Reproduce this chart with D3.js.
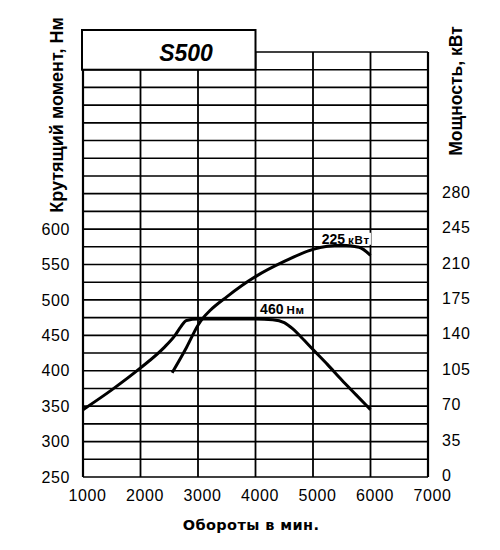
<!DOCTYPE html>
<html>
<head>
<meta charset="utf-8">
<script src="https://cdn.jsdelivr.net/npm/d3@7"></script>
<style>
html,body{margin:0;padding:0;background:#fff;}
svg{display:block;}
text{font-family:"Liberation Sans",Arial,Helvetica,sans-serif;fill:#000;}
</style>
</head>
<body>
<svg id="chart" width="500" height="550"></svg>
<script>
// ---- data ----
const title = "S500";
const rpmTicks = [1000, 2000, 3000, 4000, 5000, 6000, 7000];
const torqueTicks = [250, 300, 350, 400, 450, 500, 550, 600];
const powerTicks = [0, 35, 70, 105, 140, 175, 210, 245, 280];
const torqueRpm = [1000, 1500, 2000, 2400, 2600, 2700, 2800, 3000, 3500, 4000, 4300, 4500, 4650, 4800, 5000, 5250, 5500, 5750, 6000];
const torqueNm  = [345, 373, 404, 432, 450, 462, 471, 473, 473, 473, 472, 468, 459, 447, 430, 409, 387, 366, 345];
const powerRpm = [2550, 2800, 3000, 3100, 3200, 3500, 4000, 4500, 5000, 5500, 5800, 6000];
const powerKw  = [103, 128, 150, 158, 164, 178, 198, 213, 225, 229, 227, 219];
const torqueLabel = ["460", "Нм"];
const powerLabel = ["225", "кВт"];
const xTitle = "Обороты в мин.";
const yLeftTitle = "Крутящий момент, Нм";
const yRightTitle = "Мощность, кВт";

// ---- scales ----
const svg = d3.select("#chart");
const x = d3.scaleLinear().domain([1000, 7000]).range([83, 428]);
const yT = d3.scaleLinear().domain([250, 850]).range([477, 52]);
const yP = d3.scaleLinear().domain([0, 420]).range([477, 52]);
const gridNm = d3.range(250, 851, 25);

const g = svg.append("g");

// horizontal grid
g.selectAll("line.h").data(gridNm).join("line")
  .attr("x1", x(1000)).attr("x2", x(7000))
  .attr("y1", d => yT(d)).attr("y2", d => yT(d))
  .attr("stroke", "#000").attr("stroke-width", 1.6);

// vertical grid
g.selectAll("line.v").data(rpmTicks).join("line")
  .attr("x1", d => x(d)).attr("x2", d => x(d))
  .attr("y1", yT(850)).attr("y2", yT(250))
  .attr("stroke", "#000").attr("stroke-width", d => (d === 1000 || d === 7000) ? 2.2 : 1.8);

// title box
g.append("rect")
  .attr("x", x(1000) - 1).attr("y", 30)
  .attr("width", x(4000) - x(1000) + 1).attr("height", yT(825) - 30)
  .attr("fill", "#fff").attr("stroke", "#000").attr("stroke-width", 2);
g.append("text").attr("x", 186).attr("y", 61)
  .attr("text-anchor", "middle")
  .style("font-size", "23px").style("font-weight", "bold").style("font-style", "italic")
  .text(title);

// curve labels (under the curves)
const labelLayer = g.append("g");
function label(xp, yp, parts) {
  const t = labelLayer.append("text").attr("x", xp).attr("y", yp)
    .style("font-weight", "bold");
  t.append("tspan").style("font-size", "14px").text(parts[0]);
  t.append("tspan").attr("dx", 3).style("font-size", "11.5px").style("letter-spacing", "0.8px").text(parts[1]);
  const bb = t.node().getBBox();
  labelLayer.insert("rect", () => t.node())
    .attr("x", bb.x - 1).attr("y", bb.y + 2)
    .attr("width", bb.width + 2).attr("height", bb.height - 4)
    .attr("fill", "#fff");
}
label(x(4080), yT(475) - 4, torqueLabel);
label(x(5150), yT(575) - 3, powerLabel);

// curves
const line = d3.line().curve(d3.curveMonotoneX);
g.append("path")
  .attr("d", line(torqueRpm.map((r, i) => [x(r), yT(torqueNm[i])])))
  .attr("fill", "none").attr("stroke", "#000").attr("stroke-width", 3);
g.append("path")
  .attr("d", line(powerRpm.map((r, i) => [x(r), yP(powerKw[i])])))
  .attr("fill", "none").attr("stroke", "#000").attr("stroke-width", 3);

// axes
const left = svg.append("g").attr("transform", `translate(${x(1000)},0)`)
  .call(d3.axisLeft(yT).tickValues(torqueTicks).tickSize(0).tickPadding(13));
const bottom = svg.append("g").attr("transform", `translate(4,${yT(250)})`)
  .call(d3.axisBottom(x).tickValues(rpmTicks).tickSize(0).tickPadding(13).tickFormat(d3.format("d")));
const right = svg.append("g").attr("transform", `translate(${x(7000)},0)`)
  .call(d3.axisRight(yP).tickValues(powerTicks).tickSize(0).tickPadding(14));
[left, bottom, right].forEach(a => {
  a.select(".domain").remove();
  a.selectAll("text").style("font-size", "16px").style("letter-spacing", "0.6px").attr("fill", "#000")
    .style("font-family", '"Liberation Sans",Arial,sans-serif');
});
right.selectAll("text").attr("dy", "0.22em");

// axis titles
svg.append("text").attr("x", 251).attr("y", 530)
  .attr("text-anchor", "middle")
  .style("font-family", '"DejaVu Sans",sans-serif')
  .style("font-size", "14.5px").style("font-weight", "bold").style("letter-spacing", "0.4px")
  .text(xTitle);
svg.append("text").attr("transform", "translate(63,115) rotate(-90)")
  .attr("text-anchor", "middle")
  .style("font-size", "18px").style("font-weight", "bold")
  .text(yLeftTitle);
svg.append("text").attr("transform", "translate(462,91) rotate(-90)")
  .attr("text-anchor", "middle")
  .style("font-size", "17.5px").style("font-weight", "bold")
  .text(yRightTitle);
</script>
</body>
</html>
